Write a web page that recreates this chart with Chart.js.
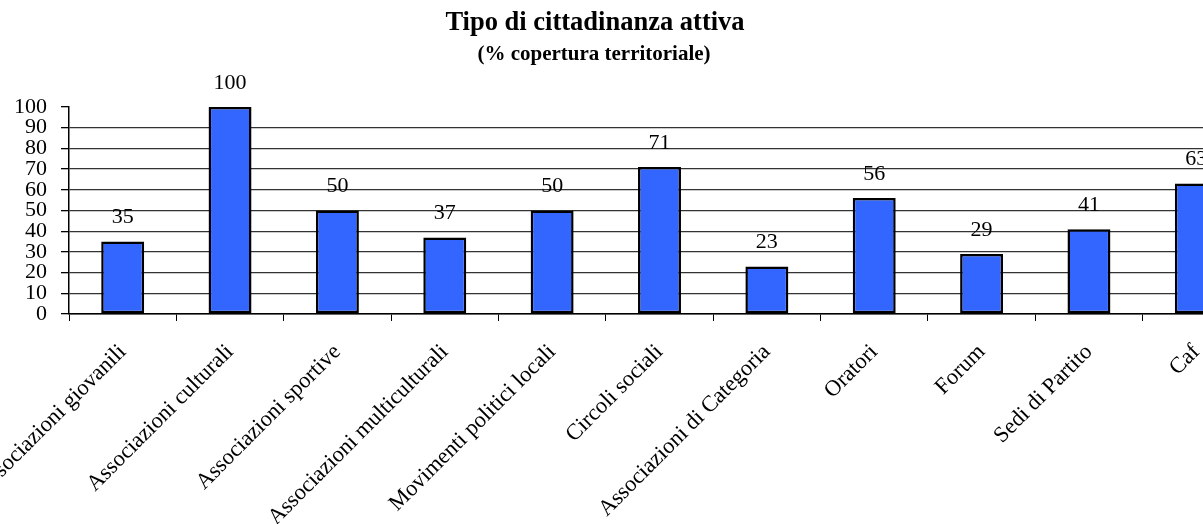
<!DOCTYPE html>
<html>
<head>
<meta charset="utf-8">
<script src="https://cdn.jsdelivr.net/npm/chart.js@4/dist/chart.umd.min.js"></script>
<style>
  html, body { margin: 0; padding: 0; background: #fff; overflow: hidden; }
  #wrap { position: relative; width: 1250px; height: 524px; }
</style>
</head>
<body>
<div id="wrap"><canvas id="c"></canvas></div>
<script>
const categories = [
  "Associazioni giovanili",
  "Associazioni culturali",
  "Associazioni sportive",
  "Associazioni multiculturali",
  "Movimenti politici locali",
  "Circoli sociali",
  "Associazioni di Categoria",
  "Oratori",
  "Forum",
  "Sedi di Partito",
  "Caf"
];
const coverage = [35, 100, 50, 37, 50, 71, 23, 56, 29, 41, 63];
const yTicks = [0, 10, 20, 30, 40, 50, 60, 70, 80, 90, 100];
const titleText = "Tipo di cittadinanza attiva";
const subtitleText = "(% copertura territoriale)";

const SERIF = "'Liberation Serif', 'DejaVu Serif', serif";

const labelPlugin = {
  id: 'valueLabels',
  afterDatasetsDraw(chart) {
    const ctx = chart.ctx;
    const meta = chart.getDatasetMeta(0);
    ctx.save();
    ctx.fillStyle = '#000';
    ctx.font = "22px " + SERIF;
    ctx.textAlign = 'center';
    ctx.textBaseline = 'middle';
    meta.data.forEach((bar, i) => {
      ctx.fillText(String(coverage[i]), bar.x, bar.y - 24);
    });
    ctx.restore();
  }
};

const titlePlugin = {
  id: 'customTitle',
  afterDraw(chart) {
    const ctx = chart.ctx;
    ctx.save();
    ctx.fillStyle = '#000';
    ctx.textAlign = 'center';
    ctx.textBaseline = 'middle';
    ctx.font = "bold 26.5px " + SERIF;
    ctx.fillText(titleText, 595, 23);
    ctx.font = "bold 21px " + SERIF;
    ctx.fillText(subtitleText, 594, 55);
    ctx.restore();
  }
};

new Chart(document.getElementById('c'), {
  type: 'bar',
  data: {
    labels: categories,
    datasets: [{
      data: coverage,
      backgroundColor: '#3366FF',
      borderColor: '#000',
      borderWidth: 2.5,
      borderSkipped: false,
      categoryPercentage: 1,
      barPercentage: 0.4
    }]
  },
  options: {
    responsive: true,
    maintainAspectRatio: false,
    animation: false,
    layout: { padding: { top: 107, left: 0, right: 0, bottom: 0 } },
    plugins: {
      legend: { display: false },
      title: { display: false },
      tooltip: { enabled: false }
    },
    scales: {
      x: {
        grid: {
          display: true,
          drawOnChartArea: false,
          drawTicks: true,
          tickLength: 7,
          color: '#000',
          offset: true
        },
        border: { display: true, color: '#000', width: 1.5 },
        ticks: {
          color: '#000',
          font: { family: SERIF, size: 22.5 },
          minRotation: 45,
          maxRotation: 45,
          autoSkip: false,
          padding: 18
        },
        afterFit(scale) {
          scale.paddingLeft = 0;
          scale.paddingRight = 0;
          scale.height = 210;
        }
      },
      y: {
        min: 0,
        max: 100,
        afterBuildTicks(scale) {
          scale.ticks = yTicks.map(v => ({ value: v }));
        },
        grid: {
          color: (c) => (c.tick && c.tick.value === 100) ? 'rgba(0,0,0,0)' : '#333',
          tickColor: '#000',
          lineWidth: 1.3,
          drawTicks: true,
          tickLength: 8
        },
        border: { display: true, color: '#000', width: 1.5 },
        ticks: {
          color: '#000',
          font: { family: SERIF, size: 22 },
          padding: 14,
          autoSkip: false
        },
        afterFit(scale) {
          scale.width = 69;
          scale.paddingTop = 0;
          scale.paddingBottom = 0;
        }
      }
    }
  },
  plugins: [labelPlugin, titlePlugin]
});
</script>
</body>
</html>
